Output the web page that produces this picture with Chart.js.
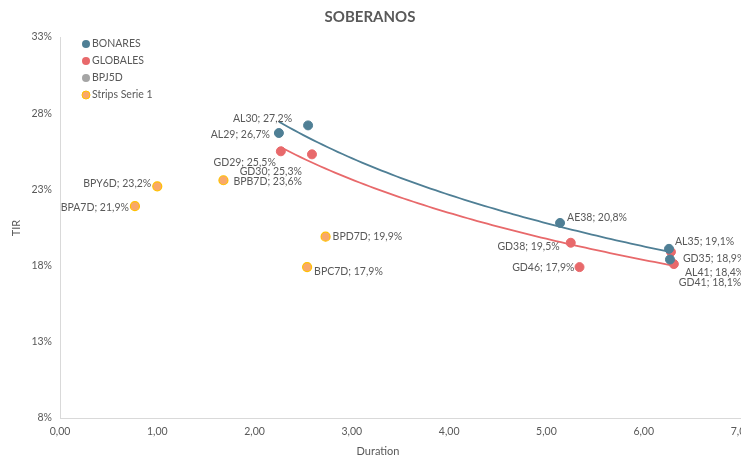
<!DOCTYPE html>
<html><head><meta charset="utf-8">
<script src="https://cdn.jsdelivr.net/npm/chart.js@4/dist/chart.umd.min.js"></script>
<style>html,body{margin:0;padding:0;overflow:hidden;background:#fff;width:741px;height:460px}canvas{display:block}</style>
</head><body>
<div style="width:760px;height:460px"><canvas id="c" width="760" height="460"></canvas></div>
<script>
// ---- data ----
const bonaresNames = ["AL29","AL30","AE38","AL35","AL41"];
const bonaresDur   = [2.25, 2.55, 5.14, 6.26, 6.27];
const bonaresTir   = [26.7, 27.2, 20.8, 19.1, 18.4];

const globalesNames = ["GD29","GD30","GD38","GD46","GD35","GD41"];
const globalesDur   = [2.27, 2.59, 5.25, 5.34, 6.28, 6.31];
const globalesTir   = [25.5, 25.3, 19.5, 17.9, 18.9, 18.1];

const bpj5dNames = [];
const bpj5dDur   = [];
const bpj5dTir   = [];

const stripsNames = ["BPY6D","BPA7D","BPB7D","BPD7D","BPC7D"];
const stripsDur   = [1.00, 0.77, 1.68, 2.73, 2.54];
const stripsTir   = [23.2, 21.9, 23.6, 19.9, 17.9];

const xTicks = [0,1,2,3,4,5,6,7];
const yTicks = [8,13,18,23,28,33];

// ---- label placement (style, not data) : [dx, dy, align] ----
const labelPos = {
  AL29:[-9,2,'right'], AL30:[-16,-7,'right'], AE38:[7,-5,'left'], AL35:[6,-7,'left'], AL41:[15,13,'left'],
  GD29:[-5,11,'right'], GD30:[-10,17,'right'], GD38:[-11,4,'right'], GD46:[-5,0,'right'], GD35:[12,7,'left'], GD41:[5,19,'left'],
  BPY6D:[-6,-3,'right'], BPA7D:[-6,1,'right'], BPB7D:[10,1.5,'left'], BPD7D:[7,0,'left'], BPC7D:[7,4,'left']
};

const BLUE = '#4f7f95', RED = '#e8696b', GREY = '#a5a5a5', ORANGE = '#f9a86a', ORANGE_B = '#ffc000';
const FONT = 'Lato, "Open Sans", sans-serif';
const TXT = '#595959';

function pts(d, t, n){ return d.map((x,i)=>({x:x, y:t[i], name:n[i]})); }

const datasets = [
  {label:'BONARES', data:pts(bonaresDur,bonaresTir,bonaresNames), backgroundColor:BLUE, borderColor:BLUE, pointRadius:4.5, trend:true},
  {label:'GLOBALES', data:pts(globalesDur,globalesTir,globalesNames), backgroundColor:RED, borderColor:RED, pointRadius:4.5, trend:true},
  {label:'BPJ5D', data:pts(bpj5dDur,bpj5dTir,bpj5dNames), backgroundColor:GREY, borderColor:GREY, pointRadius:4.5},
  {label:'Strips Serie 1', data:pts(stripsDur,stripsTir,stripsNames), backgroundColor:ORANGE, borderColor:ORANGE_B, borderWidth:1.2, pointRadius:4.5}
];

// logarithmic trendline (least squares on ln x), drawn through the scales
const trendPlugin = {
  id:'trend',
  beforeDatasetsDraw(chart){
    const {ctx, scales:{x, y}} = chart;
    chart.data.datasets.forEach(ds=>{
      if(!ds.trend || ds.data.length<2) return;
      const lx = ds.data.map(p=>Math.log(p.x)), ys = ds.data.map(p=>p.y);
      const n = lx.length, mx = lx.reduce((a,b)=>a+b)/n, my = ys.reduce((a,b)=>a+b)/n;
      let sxy=0,sxx=0; for(let i=0;i<n;i++){sxy+=(lx[i]-mx)*(ys[i]-my); sxx+=(lx[i]-mx)**2;}
      const b = sxy/sxx, a = my - b*mx;
      const x0 = Math.min(...ds.data.map(p=>p.x)), x1 = Math.max(...ds.data.map(p=>p.x));
      ctx.save(); ctx.strokeStyle = ds.borderColor; ctx.lineWidth = 1.8; ctx.beginPath();
      const N=80;
      for(let k=0;k<=N;k++){ const xv = x0+(x1-x0)*k/N; const px=x.getPixelForValue(xv), py=y.getPixelForValue(a+b*Math.log(xv)); k?ctx.lineTo(px,py):ctx.moveTo(px,py); }
      ctx.stroke(); ctx.restore();
    });
  }
};

const labelPlugin = {
  id:'labels',
  afterDatasetsDraw(chart){
    const {ctx} = chart;
    ctx.save(); ctx.font = '10.5px '+FONT; ctx.fillStyle = TXT; ctx.textBaseline='middle';
    chart.data.datasets.forEach((ds,di)=>{
      const meta = chart.getDatasetMeta(di);
      ds.data.forEach((p,i)=>{
        const el = meta.data[i]; const lp = labelPos[p.name] || [6,0,'left'];
        ctx.textAlign = lp[2];
        ctx.fillText(p.name+'; '+p.y.toFixed(1).replace('.',',')+'%', el.x+lp[0], el.y+lp[1]);
      });
    });
    ctx.restore();
  },
  afterDraw(chart){
    const {ctx} = chart;
    ctx.save();
    // title
    ctx.font = 'bold 15px '+FONT; ctx.fillStyle = TXT; ctx.textAlign='center'; ctx.textBaseline='middle';
    ctx.fillText('SOBERANOS', 370, 17);
    // axis titles
    ctx.font = '11px '+FONT;
    ctx.fillText('Duration', 378, 451);
    ctx.save(); ctx.translate(16, 228); ctx.rotate(-Math.PI/2); ctx.fillText('TIR', 0, 0); ctx.restore();
    // legend
    ctx.font = '10.5px '+FONT; ctx.textAlign='left';
    chart.data.datasets.forEach((ds,i)=>{
      const yy = 44 + i*17;
      ctx.beginPath(); ctx.arc(86, yy, 4, 0, Math.PI*2);
      ctx.fillStyle = ds.backgroundColor; ctx.fill();
      if(ds.borderWidth){ ctx.strokeStyle = ds.borderColor; ctx.lineWidth=1; ctx.stroke(); }
      ctx.fillStyle = TXT; ctx.fillText(ds.label, 92, yy);
    });
    ctx.restore();
  }
};

new Chart(document.getElementById('c'), {
  type:'scatter',
  data:{datasets},
  options:{
    responsive:false, animation:false,
    layout:{padding:{left:0,right:19,top:37,bottom:0}},
    plugins:{legend:{display:false}, title:{display:false}, tooltip:{enabled:false}},
    elements:{point:{borderWidth:1}},
    scales:{
      x:{type:'linear', min:xTicks[0], max:xTicks[xTicks.length-1],
         afterBuildTicks(s){ s.ticks = xTicks.map(v=>({value:v})); },
         afterFit(s){ s.height = 42; },
         grid:{display:false, drawTicks:true, tickLength:4, tickColor:'#d9d9d9'},
         border:{color:'#d9d9d9', width:1},
         ticks:{color:TXT, font:{family:FONT,size:10.5}, padding:3, maxRotation:0, callback:v=>v.toFixed(2).replace('.',',')},
         title:{display:false}},
      y:{type:'linear', min:yTicks[0], max:yTicks[yTicks.length-1],
         afterBuildTicks(s){ s.ticks = yTicks.map(v=>({value:v})); },
         afterFit(s){ s.width = 60; },
         grid:{display:false, drawTicks:true, tickLength:4, tickColor:'#d9d9d9'},
         border:{color:'#d9d9d9', width:1},
         ticks:{color:TXT, font:{family:FONT,size:10.5}, padding:4, callback:v=>v+'%'},
         title:{display:false}}
    }
  },
  plugins:[trendPlugin, labelPlugin]
});
</script>
</body></html>
